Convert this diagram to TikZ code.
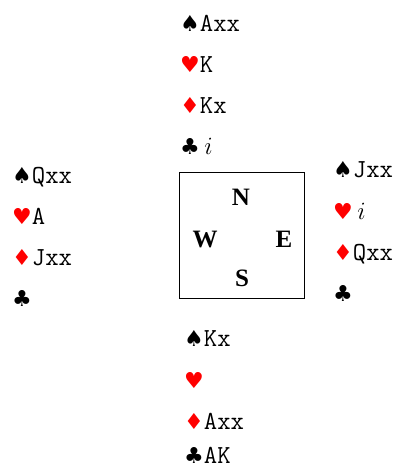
\documentclass[tikz,border=0pt]{standalone}
\usepackage{fontspec}
\setmainfont{Liberation Serif}
\newfontfamily\suitfont{DejaVu Sans}
\usepackage{tikz}

\newcommand{\spsym}{{\fontsize{22}{22}\suitfont ♠}}
\newcommand{\htsym}{{\fontsize{22}{22}\suitfont\color{red}♥}}
\newcommand{\dmsym}{{\fontsize{22}{22}\suitfont\color{red}♦}}
\newcommand{\clsym}{{\fontsize{22}{22}\suitfont ♣}}

\tikzset{
  hand/.style={anchor=base west, inner sep=0pt, font=\fontsize{26}{26}\ttfamily},
  seat/.style={anchor=base, inner sep=0pt, font=\fontsize{25}{25}\selectfont\bfseries}
}

\begin{document}
\begin{tikzpicture}[x=1pt, y=-1pt]
            \useasboundingbox (0,0) rectangle (397,470);
            % north
            \node[hand] (n1) at (180,32) {\spsym Axx};
            \node[hand] (n2) at (180,73) {\htsym K};
            \node[hand] (n3) at (180,114) {\dmsym Kx};
            \node[hand] (n4) at (180,155) {\clsym\,$i$};
            % west
            \node[hand] (w1) at (12,183) {\spsym Qxx};
            \node[hand] (w2) at (12,224) {\htsym A};
            \node[hand] (w3) at (12,265) {\dmsym Jxx};
            \node[hand] (w4) at (12,306) {\clsym};
            % east
            \node[hand] (e1) at (333,178) {\spsym Jxx};
            \node[hand] (e2) at (333,219) {\htsym\,$i$};
            \node[hand] (e3) at (333,260) {\dmsym Qxx};
            \node[hand] (e4) at (333,301) {\clsym};
            % south
            \node[hand] (s1) at (184,346) {\spsym Kx};
            \node[hand] (s2) at (184,388) {\htsym};
            \node[hand] (s3) at (184,429) {\dmsym Axx};
            \node[hand] (s4) at (184,463) {\clsym AK};
            % table
            \draw[line width=1pt] (179,173) rectangle (304,298);
            \node[seat] (N) at (241,205) {N};
            \node[seat] (W) at (205,247) {W};
            \node[seat] (E) at (284,247) {E};
            \node[seat] (S) at (242,286) {S};
        \end{tikzpicture}
\end{document}
